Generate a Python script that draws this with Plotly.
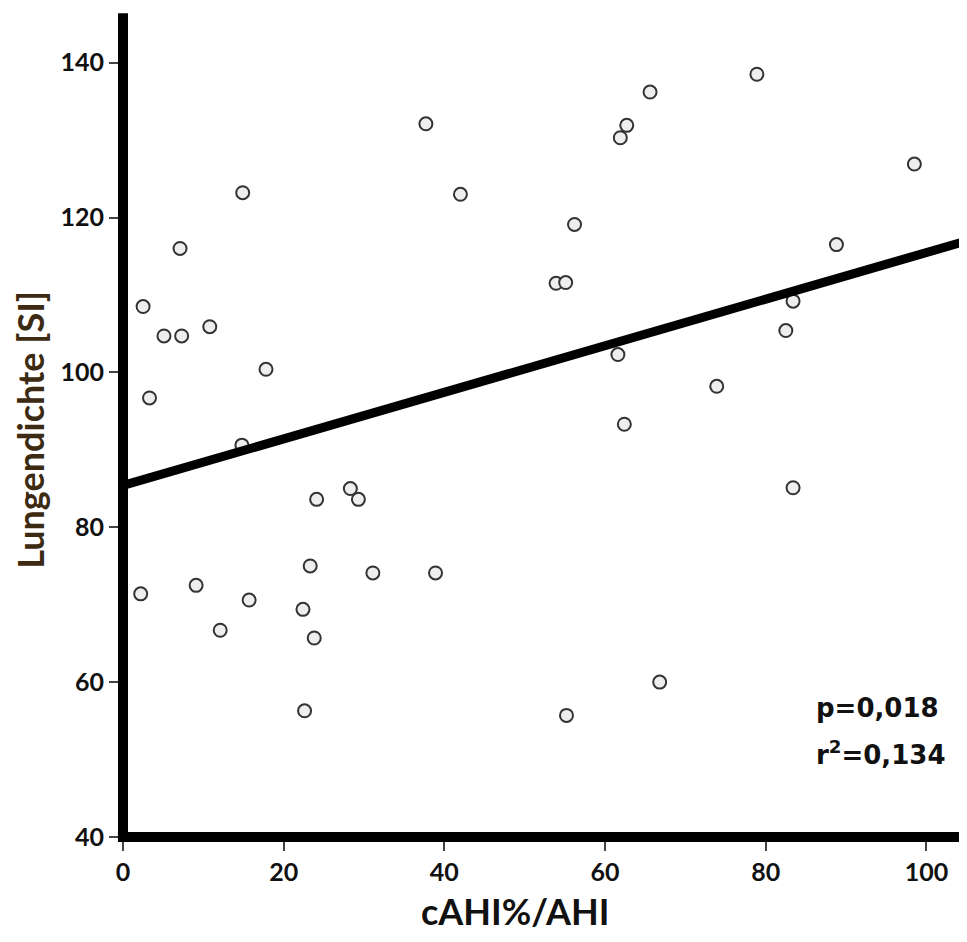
import plotly.graph_objects as go

# cAHI%/AHI (x) and Lungendichte [SI] (y)
cahi_ratio = [2.5, 3.3, 2.2, 5.1, 7.3, 7.1, 10.8, 9.1, 12.1, 14.9, 14.8, 15.7, 17.8,
              22.4, 22.6, 23.3, 23.8, 24.1, 28.3, 29.3, 31.1, 37.7, 38.9, 42.0,
              53.9, 55.1, 56.2, 55.2, 61.6, 61.9, 62.7, 62.4, 65.6, 66.8, 73.9,
              78.9, 82.5, 83.4, 83.4, 88.8, 98.5]
lungendichte = [108.5, 96.7, 71.4, 104.7, 104.7, 116.0, 105.9, 72.5, 66.7, 123.2, 90.6,
                70.6, 100.4, 69.4, 56.3, 75.0, 65.7, 83.6, 85.0, 83.6, 74.1, 132.1,
                74.1, 123.0, 111.5, 111.6, 119.1, 55.7, 102.3, 130.3, 131.9, 93.3,
                136.2, 60.0, 98.2, 138.5, 105.4, 109.2, 85.1, 116.5, 126.9]

# regression line end points as drawn
fit_x = [0.0, 104.4]
fit_y = [85.4, 116.8]

x_ticks = [0, 20, 40, 60, 80, 100]
y_ticks = [40, 60, 80, 100, 120, 140]
x_title = "cAHI%/AHI"
y_title = "Lungendichte [SI]"
stats_p = "p=0,018"
stats_r2 = "r<sup>2</sup>=0,134"

fig = go.Figure()
fig.add_trace(go.Scatter(
    x=cahi_ratio, y=lungendichte, mode="markers",
    marker=dict(size=13, color="#eeeeee", line=dict(color="#333333", width=2)),
    showlegend=False, hoverinfo="skip"))
fig.add_trace(go.Scatter(
    x=fit_x, y=fit_y, mode="lines",
    line=dict(color="black", width=9), showlegend=False, hoverinfo="skip"))

tick_font = dict(family="Lato", size=25, color="#111111", weight=700)

# the page body has an 8px margin, so the figure is sized to fit inside the window
fig.update_layout(
    width=959, height=926,
    margin=dict(l=115, r=0, t=7, b=97),
    plot_bgcolor="white", paper_bgcolor="white",
    xaxis=dict(
        range=[0, 105.05], tickvals=x_ticks, ticktext=[str(v) for v in x_ticks],
        showgrid=False, zeroline=False, showline=False,
        ticks="outside", ticklen=13, tickwidth=2, tickcolor="#444444",
        tickfont=tick_font,
    ),
    yaxis=dict(
        range=[40, 146.15], tickvals=y_ticks, ticktext=[str(v) for v in y_ticks],
        showgrid=False, zeroline=False, showline=False,
        ticks="outside", ticklen=13, tickwidth=2, tickcolor="#444444",
        tickfont=tick_font,
    ),
    shapes=[
        dict(type="line", xref="paper", yref="paper", x0=0, x1=0, y0=-0.006, y1=1.002,
             line=dict(color="black", width=10), layer="above"),
        dict(type="line", xref="paper", yref="paper", x0=-0.006, x1=1.0, y0=0, y1=0,
             line=dict(color="black", width=10), layer="above"),
    ],
    annotations=[
        dict(x=0.464, y=-0.09, xref="paper", yref="paper", text=x_title, showarrow=False,
             xanchor="center", yanchor="middle",
             font=dict(family="Lato", size=36, color="#111111", weight=700)),
        dict(x=-0.1095, y=0.495, xref="paper", yref="paper", text=y_title, showarrow=False,
             textangle=-90, xanchor="center", yanchor="middle",
             font=dict(family="Lato", size=36, color="#3d2a12", weight=700)),
        dict(x=86.0, y=56.6, xref="x", yref="y", text=stats_p, showarrow=False,
             xanchor="left", yanchor="middle",
             font=dict(family="DejaVu Sans", size=26, color="#111111", weight=700)),
        dict(x=86.0, y=50.9, xref="x", yref="y", text=stats_r2, showarrow=False,
             xanchor="left", yanchor="middle",
             font=dict(family="DejaVu Sans", size=26, color="#111111", weight=700)),
    ],
)

fig.write_html("out.html")
